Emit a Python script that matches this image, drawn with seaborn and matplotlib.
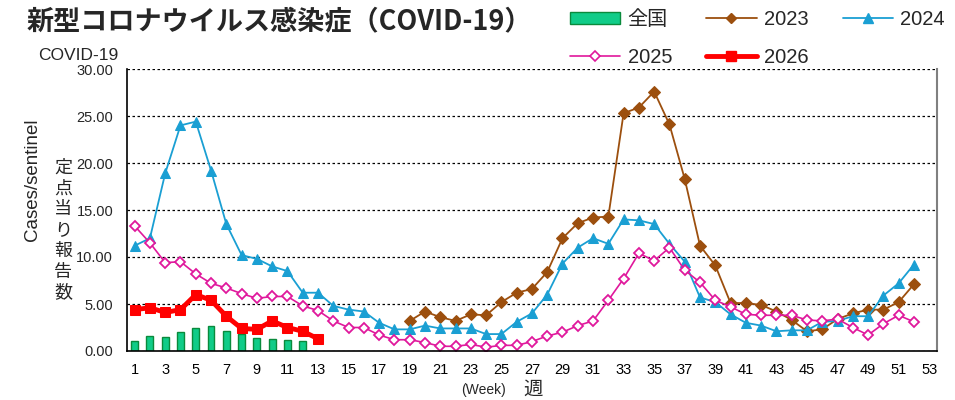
import matplotlib
matplotlib.use('Agg')
import matplotlib.pyplot as plt
from matplotlib.lines import Line2D
from matplotlib.patches import Patch
import seaborn as sns

# weekly cases per sentinel
weeks_2023 = list(range(19, 53))
cases_2023 = [3.2, 4.2, 3.6, 3.2, 3.9, 3.8, 5.2, 6.2, 6.6, 8.4, 12.0, 13.6,
              14.2, 14.3, 25.3, 25.9, 27.6, 24.1, 18.3, 11.2, 9.1, 5.1, 5.1, 4.9,
              4.2, 3.3, 2.1, 2.3, 3.4, 4.0, 4.4, 4.4, 5.2, 7.1]

weeks_2024 = list(range(1, 53))
cases_2024 = [11.2, 12.0, 18.9, 24.0, 24.4, 19.2, 13.5, 10.2, 9.8, 9.0, 8.5, 6.2,
              6.2, 4.8, 4.4, 4.2, 3.0, 2.3, 2.3, 2.7, 2.4, 2.4, 2.4, 1.8,
              1.8, 3.1, 4.0, 6.0, 9.3, 11.0, 12.0, 11.4, 14.0, 13.9, 13.5, 11.4,
              9.5, 5.7, 5.2, 3.9, 3.0, 2.7, 2.1, 2.2, 2.2, 3.1, 3.2, 3.7,
              3.7, 5.9, 7.2, 9.2]

weeks_2025 = list(range(1, 53))
cases_2025 = [13.3, 11.5, 9.4, 9.5, 8.2, 7.2, 6.7, 6.1, 5.6, 5.8, 5.8, 4.8,
              4.3, 3.2, 2.5, 2.5, 1.7, 1.2, 1.2, 0.9, 0.5, 0.5, 0.7, 0.4,
              0.6, 0.6, 1.0, 1.6, 2.0, 2.7, 3.2, 5.4, 7.7, 10.4, 9.6, 11.0,
              8.6, 7.3, 5.4, 4.7, 3.9, 3.8, 3.8, 3.8, 3.3, 3.2, 3.4, 2.5,
              1.7, 2.9, 3.8, 3.1]

weeks_2026 = list(range(1, 14))
cases_2026 = [4.4, 4.6, 4.1, 4.4, 6.0, 5.4, 3.7, 2.4, 2.3, 3.2, 2.5, 2.1, 1.3]

weeks_national = list(range(1, 13))
cases_national = [1.06, 1.56, 1.53, 1.99, 2.45, 2.66, 2.09, 1.81, 1.35, 1.24, 1.17, 1.03]

tick_weeks = list(range(1, 54))
tick_labels = [str(w) if w % 2 == 1 else '' for w in tick_weeks]
y_ticks = [0, 5, 10, 15, 20, 25, 30]

sns.set_style('white')
plt.rcParams['font.family'] = ['Liberation Sans', 'Noto Sans CJK JP', 'DejaVu Sans']

fig = plt.figure(figsize=(9.55, 4.0), dpi=100)
ax = fig.add_axes([0.133, 0.1225, 0.848, 0.705])

sns.barplot(x=weeks_national, y=cases_national, native_scale=True, width=0.45,
            color='#10cc88', saturation=1, edgecolor='#0a8a3c', linewidth=1.0, ax=ax)

sns.lineplot(x=weeks_2023, y=cases_2023, color='#9c4f0e', linewidth=1.3,
             marker='D', markersize=6, markeredgecolor='#9c4f0e', ax=ax)
sns.lineplot(x=weeks_2024, y=cases_2024, color='#1a9fd3', linewidth=1.3,
             marker='^', markersize=7.5, markeredgecolor='#1a9fd3', ax=ax)
sns.lineplot(x=weeks_2025, y=cases_2025, color='#e0189c', linewidth=1.2,
             marker='D', markersize=5.5, markerfacecolor='white',
             markeredgecolor='#e0189c', markeredgewidth=1.3, ax=ax)
sns.lineplot(x=weeks_2026, y=cases_2026, color='#ff0000', linewidth=3.5,
             marker='s', markersize=7.5, markeredgecolor='#ff0000', ax=ax)

ax.set_xlim(0.5, 53.5)
ax.set_ylim(0, 30)
ax.set_xticks(tick_weeks)
ax.set_xticklabels(tick_labels, fontsize=10.5)
ax.set_yticks(y_ticks)
ax.set_yticklabels([f'{v:.2f}' for v in y_ticks], fontsize=10.5)
ax.tick_params(axis='x', direction='in', length=4, width=0.8, pad=9, colors='black')
ax.tick_params(axis='y', length=0, pad=10)
ax.set_xlabel('')
ax.set_ylabel('')

ax.set_axisbelow(True)
ax.yaxis.grid(True, linestyle=(0, (2, 2)), color='black', linewidth=0.9)
ax.spines['top'].set_visible(False)
ax.spines['left'].set_color('black')
ax.spines['left'].set_linewidth(1.2)
ax.spines['bottom'].set_color('black')
ax.spines['bottom'].set_linewidth(1.2)
ax.spines['right'].set_color('#808080')
ax.spines['right'].set_linewidth(1.5)

# titles and axis captions
fig.text(0.028, 0.947, '新型コロナウイルス感染症（COVID-19）', fontsize=19.5,
         fontweight='bold', family=['Noto Sans CJK JP'], va='center', ha='left')
fig.text(0.040, 0.86, 'COVID-19', fontsize=12.5, va='center', ha='left')
fig.text(0.034, 0.55, 'Cases/sentinel', fontsize=13.5, rotation=90, va='center', ha='center')
fig.text(0.066, 0.425, '定\n点\n当\nり\n報\n告\n数', fontsize=13, va='center', ha='center',
         linespacing=1.2, family=['Noto Sans CJK JP'])
fig.text(0.506, 0.025, '(Week)', fontsize=10, va='center', ha='center')
fig.text(0.558, 0.026, '週', fontsize=14, va='center', ha='center',
         family=['Noto Sans CJK JP'])

# legend laid out row-wise: 全国 2023 2024 / 2025 2026
h_nat = Patch(facecolor='#10cc88', edgecolor='#0a8a3c', label='全国')
h23 = Line2D([], [], color='#9c4f0e', lw=1.3, marker='D', ms=5, label='2023')
h24 = Line2D([], [], color='#1a9fd3', lw=1.3, marker='^', ms=7, label='2024')
h25 = Line2D([], [], color='#e0189c', lw=1.2, marker='D', ms=5, mfc='white', mew=1.2, label='2025')
h26 = Line2D([], [], color='#ff0000', lw=3.5, marker='s', ms=7, label='2026')
fig.legend(handles=[h_nat, h25, h23, h26, h24], ncol=3, loc='upper left',
           bbox_to_anchor=(0.597, 0.975), frameon=False, fontsize=14.5,
           handlelength=2.5, handleheight=0.6, handletextpad=0.35,
           columnspacing=1.7, labelspacing=0.95, borderpad=0, borderaxespad=0)

plt.savefig('out.png', dpi=100)
plt.close()
